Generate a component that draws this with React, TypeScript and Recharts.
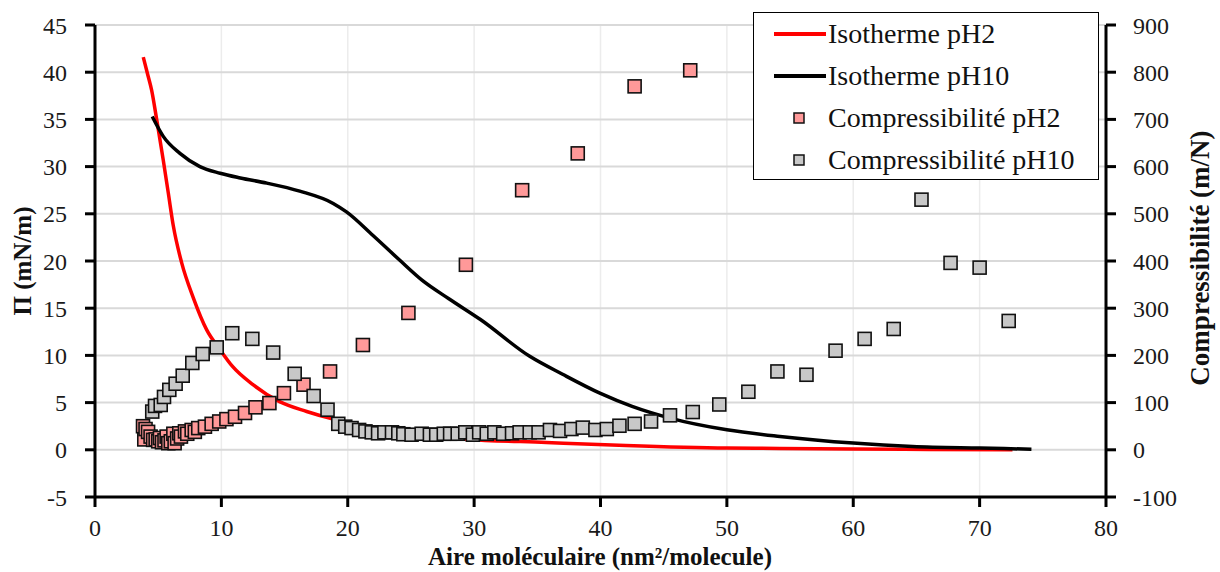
import React from "react";
import {
  ComposedChart,
  Line,
  Scatter,
  XAxis,
  YAxis,
  CartesianGrid,
} from "recharts";

// isotherms: [aire, pression]
const isothermPH2: [number, number][] = [
  [3.82, 41.6], [4.2, 39.6], [4.48, 38.1], [4.88, 35.0], [5.4, 30.7], [5.8, 27.2],
  [6.2, 23.7], [6.86, 19.8], [7.78, 16.1], [8.84, 12.7], [9.9, 10.6], [10.9, 8.8],
  [12.5, 6.9], [14.6, 5.1], [16.75, 4.06], [18.85, 3.25], [21, 2.6], [24, 1.9],
  [26.5, 1.5], [29.4, 1.13], [35.7, 0.78], [42, 0.45], [50, 0.18], [54.2, 0.15],
  [60, 0.08], [66, 0.04], [72.6, 0.0],
];

const isothermPH10: [number, number][] = [
  [4.53, 35.3], [5.4, 33.2], [6.72, 31.4], [8.3, 30.0], [9.9, 29.3], [11.5, 28.8],
  [13.6, 28.25], [16.2, 27.4], [18.85, 26.1], [19.9, 25.2], [22, 22.7], [24.1, 20.1],
  [25.85, 18.0], [28, 16.0], [30.5, 13.8], [34.4, 9.9], [37, 8.0], [39.95, 6.0],
  [42.5, 4.6], [45.5, 3.36], [50, 2.12], [54.2, 1.41], [60, 0.71], [64.7, 0.35],
  [70, 0.18], [74.1, 0.07],
];

// compressibilité: [aire, m/N]
const comprPH2: [number, number][] = [
  [3.8, 50], [3.9, 22], [4.0, 44], [4.2, 38], [4.4, 28], [4.6, 21], [4.8, 22],
  [5.0, 18], [5.14, 25], [5.3, 16], [5.5, 20], [5.67, 28], [5.8, 14], [6.0, 18],
  [6.2, 34], [6.3, 14], [6.5, 24], [6.67, 35], [6.8, 28], [7.12, 39], [7.3, 34],
  [7.65, 42], [7.9, 38], [8.17, 46], [8.7, 49], [9.23, 55], [9.83, 60], [10.4, 65],
  [11.08, 70], [11.87, 78], [12.7, 90], [13.8, 99], [14.95, 120], [16.5, 138],
  [18.6, 166], [21.2, 222], [24.8, 290], [29.35, 392], [33.8, 550], [38.2, 628],
  [42.7, 770], [47.1, 804],
];

const comprPH10: [number, number][] = [
  [4.53, 81], [4.75, 93], [5.2, 95], [5.46, 112], [5.88, 127], [6.38, 140],
  [6.94, 157], [7.7, 184], [8.52, 203], [9.63, 217], [10.86, 247], [12.45, 235],
  [14.1, 206], [15.8, 161], [17.3, 114], [18.4, 85], [19.25, 55], [19.8, 49],
  [20.3, 46], [20.9, 42], [21.4, 39], [21.9, 37], [22.4, 35], [22.9, 37], [23.5, 37],
  [24.0, 35], [24.4, 33], [25.05, 32], [25.85, 34], [26.5, 32], [27.0, 32],
  [27.6, 34], [28.1, 34], [28.7, 34], [29.3, 37], [29.9, 32], [30.4, 37], [31.0, 34],
  [31.6, 37], [32.3, 34], [33.0, 35], [33.6, 37], [34.4, 37], [35.1, 37], [36.0, 42],
  [36.8, 40], [37.7, 44], [38.6, 47], [39.6, 42], [40.5, 44], [41.5, 51], [42.7, 55],
  [44.0, 60], [45.5, 73], [47.3, 80], [49.4, 96], [51.7, 123], [54.0, 166],
  [56.3, 159], [58.6, 210], [60.9, 235], [63.2, 256], [65.4, 530], [67.7, 396],
  [70.0, 386], [72.3, 273],
];

const xTicks = [0, 10, 20, 30, 40, 50, 60, 70, 80];
const leftTicks = [-5, 0, 5, 10, 15, 20, 25, 30, 35, 40, 45];
const rightTicks = [-100, 0, 100, 200, 300, 400, 500, 600, 700, 800, 900];

const toRows = (arr: [number, number][]) => arr.map(([x, y]) => ({ x, y }));

const FONT = "'Liberation Serif', 'Times New Roman', serif";
const tickStyle = { fontFamily: FONT, fontSize: 24, fill: "#1a1a1a" };

const Square = (fill: string) => (props: any) => {
  const { cx, cy } = props;
  if (cx == null || cy == null) return <g />;
  return (
    <rect x={cx - 6.5} y={cy - 6.5} width={13} height={13} fill={fill} stroke="#111" strokeWidth={1.6} />
  );
};

const legendItems = [
  { name: "Isotherme pH2", kind: "line", color: "#ff0000" },
  { name: "Isotherme pH10", kind: "line", color: "#000000" },
  { name: "Compressibilité pH2", kind: "square", color: "#ff9999" },
  { name: "Compressibilité pH10", kind: "square", color: "#c8c8c8" },
];

const LegendBox = () => (
  <div
    style={{
      position: "absolute",
      left: 753,
      top: 12,
      width: 344,
      height: 166,
      border: "1.5px solid #000",
      background: "#fff",
      fontFamily: FONT,
      fontSize: 28,
      color: "#111",
    }}
  >
    {legendItems.map((it) => (
      <div key={it.name} style={{ display: "flex", alignItems: "center", height: 42 }}>
        <svg width={74} height={42} style={{ flex: "none" }}>
          {it.kind === "line" ? (
            <line x1={20} x2={72} y1={21} y2={21} stroke={it.color} strokeWidth={4} />
          ) : (
            <rect x={40} y={16} width={10} height={10} fill={it.color} stroke="#111" strokeWidth={1.5} />
          )}
        </svg>
        <span style={{ whiteSpace: "nowrap" }}>{it.name}</span>
      </div>
    ))}
  </div>
);

const titleStyle = { fontFamily: FONT, fontSize: 25, fontWeight: 700, fill: "#111" };

export default function App() {
  return (
    <div style={{ position: "absolute", left: 0, top: 0, width: 1220, height: 572, background: "#fff" }}>
      <ComposedChart width={1220} height={572} margin={{ top: 25, right: 44, bottom: 35, left: 35 }}>
        <CartesianGrid yAxisId="left" horizontal={false} vertical stroke="#ececec" strokeWidth={1.5} />
        <CartesianGrid yAxisId="left" horizontal vertical={false} stroke="#d9d9d9" strokeWidth={2} />
        <XAxis
          dataKey="x"
          type="number"
          domain={[0, 80]}
          ticks={xTicks}
          interval={0}
          allowDataOverflow
          height={40}
          axisLine={{ stroke: "#000", strokeWidth: 3 }}
          tickLine={{ stroke: "#000", strokeWidth: 3 }}
          tickSize={10}
          tickMargin={12}
          tick={tickStyle}
          label={{
            content: () => (
              <text x={600} y={565} textAnchor="middle" style={titleStyle}>
                Aire moléculaire (nm²/molecule)
              </text>
            ),
          }}
        />
        <YAxis
          yAxisId="left"
          type="number"
          domain={[-5, 45]}
          ticks={leftTicks}
          interval={0}
          allowDataOverflow
          width={60}
          axisLine={{ stroke: "#000", strokeWidth: 3 }}
          tickLine={{ stroke: "#000", strokeWidth: 3 }}
          tickSize={10}
          tickMargin={18}
          tick={tickStyle}
          label={{
            content: () => (
              <text x={31} y={261} textAnchor="middle" transform="rotate(-90 31 261)" style={titleStyle}>
                Π (mN/m)
              </text>
            ),
          }}
        />
        <YAxis
          yAxisId="right"
          orientation="right"
          type="number"
          domain={[-100, 900]}
          ticks={rightTicks}
          interval={0}
          allowDataOverflow
          width={70}
          axisLine={{ stroke: "#000", strokeWidth: 3 }}
          tickLine={{ stroke: "#000", strokeWidth: 3 }}
          tickSize={10}
          tickMargin={17}
          tick={tickStyle}
          label={{
            content: () => (
              <text x={1209} y={258} textAnchor="middle" transform="rotate(-90 1209 258)" style={{ ...titleStyle, fontSize: 27 }}>
                Compressibilité (m/N)
              </text>
            ),
          }}
        />
        <Line
          yAxisId="left"
          data={toRows(isothermPH2)}
          dataKey="y"
          type="monotone"
          stroke="#ff0000"
          strokeWidth={3.5}
          dot={false}
          isAnimationActive={false}
          name="Isotherme pH2"
        />
        <Line
          yAxisId="left"
          data={toRows(isothermPH10)}
          dataKey="y"
          type="monotone"
          stroke="#000000"
          strokeWidth={3.5}
          dot={false}
          isAnimationActive={false}
          name="Isotherme pH10"
        />
        <Scatter
          yAxisId="right"
          data={toRows(comprPH2)}
          dataKey="y"
          shape={Square("#ff9999")}
          isAnimationActive={false}
          name="Compressibilité pH2"
        />
        <Scatter
          yAxisId="right"
          data={toRows(comprPH10)}
          dataKey="y"
          shape={Square("#c8c8c8")}
          isAnimationActive={false}
          name="Compressibilité pH10"
        />
      </ComposedChart>
      <LegendBox />
    </div>
  );
}
